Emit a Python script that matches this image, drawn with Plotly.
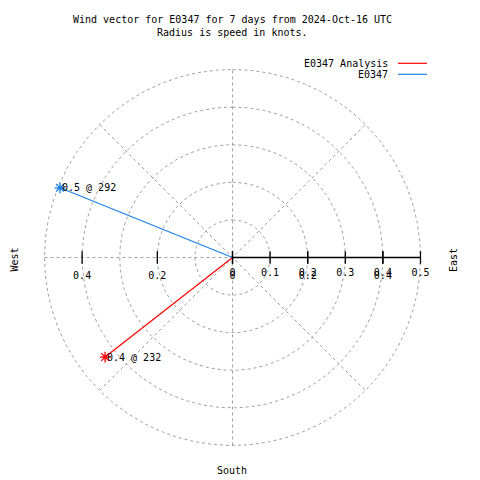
import numpy as np
import plotly.graph_objects as go

# ---- data ----
series_names = ["E0347 Analysis", "E0347"]
speeds = [0.43, 0.495]          # knots
directions = [232, 292]         # degrees (compass, clockwise from north)
colors = ["#ff0000", "#1e80e8"]
radial_ticks = [0, 0.1, 0.2, 0.3, 0.4, 0.5]
cart_ticks = [-0.4, -0.2, 0, 0.2, 0.4]
grid_angles = [0, 45, 90, 135]
r_max = 0.5
title_lines = ["Wind vector for E0347 for 7 days from 2024-Oct-16 UTC",
               "Radius is speed in knots."]

FONT = "DejaVu Sans Mono"
OFF = 8  # page body margin
W_FIG, H_FIG = 472, 472
L, R, T, B = 29, 52, 54, 27
PW, PH = W_FIG - L - R, H_FIG - T - B
RNG = [-0.52, 0.52]


def px2paper(px, py):
    """Convert screen pixel (in the 480x480 window) to paper coords."""
    px -= OFF
    py -= OFF
    return (px - L) / PW, 1 - (py - T) / PH


grid_style = dict(color="#a0a0a0", width=1, dash="3px,3px")

fig = go.Figure()

# grid circles
th = np.linspace(0, 2 * np.pi, 721)
for r in radial_ticks[1:]:
    fig.add_trace(go.Scatter(x=r * np.sin(th), y=r * np.cos(th), mode="lines",
                             line=grid_style, hoverinfo="skip", showlegend=False))
# grid radial lines (full diameters)
for a in grid_angles:
    ar = np.deg2rad(a)
    fig.add_trace(go.Scatter(x=[-r_max * np.sin(ar), r_max * np.sin(ar)],
                             y=[-r_max * np.cos(ar), r_max * np.cos(ar)],
                             mode="lines", line=grid_style, hoverinfo="skip",
                             showlegend=False))
# radial axis line
fig.add_trace(go.Scatter(x=[0, r_max], y=[0, 0], mode="lines",
                         line=dict(color="black", width=1.3), hoverinfo="skip",
                         showlegend=False))
# tick marks
fig.add_trace(go.Scatter(x=cart_ticks, y=[0] * len(cart_ticks), mode="markers",
                         marker=dict(symbol="line-ns", size=9, color="black",
                                     line=dict(color="black", width=1.3)),
                         hoverinfo="skip", showlegend=False))
fig.add_trace(go.Scatter(x=radial_ticks, y=[0] * len(radial_ticks), mode="markers",
                         xaxis="x2",
                         marker=dict(symbol="line-ns", size=9, color="black",
                                     line=dict(color="black", width=1.3)),
                         hoverinfo="skip", showlegend=False))

# wind vectors
annotations = []
for name, s, d, c in zip(series_names, speeds, directions, colors):
    dr = np.deg2rad(d)
    x, y = s * np.sin(dr), s * np.cos(dr)
    fig.add_trace(go.Scatter(x=[0, x], y=[0, y], mode="lines",
                             line=dict(color=c, width=1.2), name=name,
                             showlegend=False))
    fig.add_trace(go.Scatter(x=[x], y=[y], mode="markers",
                             marker=dict(symbol="asterisk-open", size=9, color=c,
                                         line=dict(color=c, width=1.3)),
                             showlegend=False, hoverinfo="skip"))
    annotations.append(dict(x=x, y=y, xref="x", yref="y", xanchor="left",
                            yanchor="middle", xshift=0, yshift=0,
                            text=f"{s:.1f} @ {d:.0f}", showarrow=False,
                            font=dict(family=FONT, size=10, color="black")))

# manual legend (text then line sample, gnuplot style)
shapes = []
for i, (name, c) in enumerate(zip(series_names, colors)):
    py = 63.3 + i * 11
    tx, ty = px2paper(390, py)
    annotations.append(dict(x=tx, y=ty, xref="paper", yref="paper",
                            xanchor="right", yanchor="middle", text=name,
                            showarrow=False,
                            font=dict(family=FONT, size=10, color="black")))
    x0, y0 = px2paper(398, py)
    x1, _ = px2paper(427, py)
    shapes.append(dict(type="line", xref="paper", yref="paper", x0=x0, x1=x1,
                       y0=y0, y1=y0, line=dict(color=c, width=1.2)))

# compass labels
for txt, (px, py), ang in [("West", (13.5, 260), -90), ("East", (453, 260), -90),
                           ("South", (232, 471), 0)]:
    ax_, ay_ = px2paper(px, py)
    annotations.append(dict(x=ax_, y=ay_, xref="paper", yref="paper",
                            xanchor="center", yanchor="middle", text=txt,
                            textangle=ang, showarrow=False,
                            font=dict(family=FONT, size=10, color="black")))

# title
for i, line in enumerate(title_lines):
    tx, ty = px2paper(232, 20 + 13 * i)
    annotations.append(dict(x=tx, y=ty, xref="paper", yref="paper",
                            xanchor="center", yanchor="middle", text=line,
                            showarrow=False,
                            font=dict(family=FONT, size=10, color="black")))

fig.update_layout(
    width=W_FIG, height=H_FIG,
    margin=dict(l=L, r=R, t=T, b=B, pad=0),
    paper_bgcolor="white", plot_bgcolor="white",
    showlegend=False,
    xaxis=dict(range=RNG, anchor="free", position=0.5, tickvals=cart_ticks,
               ticktext=[f"{abs(v):g}" for v in cart_ticks],
               ticks="outside", ticklen=8, tickcolor="rgba(0,0,0,0)",
               showgrid=False, zeroline=False, showline=False,
               tickfont=dict(family=FONT, size=10, color="black")),
    xaxis2=dict(range=RNG, overlaying="x", anchor="free", position=0.5,
                side="bottom", tickvals=radial_ticks,
                ticktext=[f"{v:g}" for v in radial_ticks],
                ticks="outside", ticklen=5, tickcolor="rgba(0,0,0,0)",
                showgrid=False, zeroline=False, showline=False,
                tickfont=dict(family=FONT, size=10, color="black")),
    yaxis=dict(range=RNG, showgrid=False, zeroline=False, showline=False,
               showticklabels=False, ticks=""),
    annotations=annotations,
    shapes=shapes,
)

fig.write_html("out.html")
